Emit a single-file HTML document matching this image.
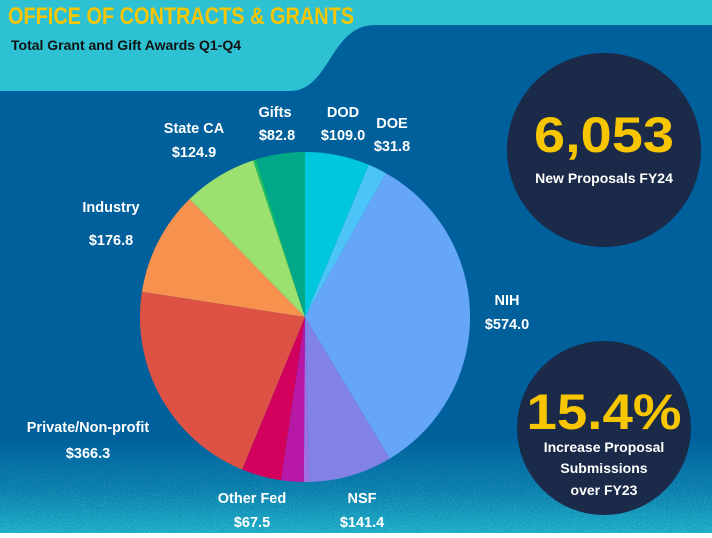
<!DOCTYPE html>
<html><head><meta charset="utf-8"><style>
html,body{margin:0;padding:0}
body{width:712px;height:533px;overflow:hidden;font-family:"Liberation Sans",sans-serif}
</style></head><body>
<svg width="712" height="533" viewBox="0 0 712 533">
<defs>
<linearGradient id="bg" x1="0" y1="0" x2="0" y2="1">
<stop offset="0" stop-color="#00609c"/><stop offset="0.82" stop-color="#00609c"/><stop offset="0.92" stop-color="#0a7eac"/><stop offset="1" stop-color="#1aaac6"/>
</linearGradient>
<filter id="noise"><feTurbulence type="fractalNoise" baseFrequency="0.9" numOctaves="2"/><feColorMatrix type="matrix" values="0 0 0 0 0.2 0 0 0 0 0.8 0 0 0 0 0.9 0 0 0 2 -1"/></filter>
<linearGradient id="fade" x1="0" y1="0" x2="0" y2="1"><stop offset="0" stop-color="#fff" stop-opacity="0"/><stop offset="1" stop-color="#fff" stop-opacity="0.8"/></linearGradient>
<mask id="m"><rect x="0" y="440" width="712" height="93" fill="url(#fade)"/></mask>
</defs>
<rect width="712" height="533" fill="url(#bg)"/>
<rect x="0" y="440" width="712" height="93" filter="url(#noise)" mask="url(#m)"/>
<path d="M0 0H712V25H375C330 25 330 91 290 91H0Z" fill="#2dc1d3"/>
<text x="8" y="24" font-family="Liberation Sans" font-weight="bold" font-size="24" fill="#f7c600" textLength="346" lengthAdjust="spacingAndGlyphs">OFFICE OF CONTRACTS &amp; GRANTS</text>
<text x="11" y="50" font-size="14" fill="#111" font-weight="bold">Total Grant and Gift Awards Q1-Q4</text>
<g id="pie"></g>
<g font-size="14.5" fill="#fff" text-anchor="middle" font-weight="bold">
<text x="275" y="117">Gifts</text><text x="277" y="140">$82.8</text>
<text x="343" y="117">DOD</text><text x="343" y="140">$109.0</text>
<text x="392" y="128">DOE</text><text x="392" y="151">$31.8</text>
<text x="194" y="133">State CA</text><text x="194" y="157">$124.9</text>
<text x="111" y="212">Industry</text><text x="111" y="245">$176.8</text>
<text x="507" y="305">NIH</text><text x="507" y="329">$574.0</text>
<text x="88" y="432">Private/Non-profit</text><text x="88" y="458">$366.3</text>
<text x="252" y="503">Other Fed</text><text x="252" y="527">$67.5</text>
<text x="362" y="503">NSF</text><text x="362" y="527">$141.4</text>
</g>
<circle cx="604" cy="150" r="97" fill="#1a2a48"/>
<text x="604" y="152" text-anchor="middle" font-weight="bold" font-size="50" fill="#f7c600" textLength="140" lengthAdjust="spacingAndGlyphs">6,053</text>
<text x="604" y="183" text-anchor="middle" font-size="14" font-weight="bold" fill="#fff">New Proposals FY24</text>
<circle cx="604" cy="428" r="87" fill="#1a2a48"/>
<text x="604" y="429" text-anchor="middle" font-weight="bold" font-size="50" fill="#f7c600" textLength="155" lengthAdjust="spacingAndGlyphs">15.4%</text>
<g text-anchor="middle" font-size="14" font-weight="bold" fill="#fff">
<text x="604" y="452">Increase Proposal</text><text x="604" y="473">Submissions</text><text x="604" y="495">over FY23</text></g>
</svg>
<script>
const categories=["DOD","DOE","NIH","NSF","Other A","Other B","Other Fed","Private/Non-profit","Industry","State CA","Other C","Gifts"];
const values=[109.0,31.8,574.0,141.4,9,38,67.5,366.3,176.8,124.9,5,82.8];
const colors=["#00c8dc","#4cc4f8","#66a6f8","#8282e6","#a070e0","#b818a6","#d2005c","#de5246","#f6924e","#9ce070","#1fbf60","#00a888"];
const cx=305,cy=317,r=165;
const total=values.reduce((a,b)=>a+b,0);
const g=document.getElementById('pie');
let a0=0;
values.forEach((v,i)=>{
 const a1=a0+v/total*2*Math.PI;
 const x0=cx+r*Math.sin(a0),y0=cy-r*Math.cos(a0),x1=cx+r*Math.sin(a1),y1=cy-r*Math.cos(a1);
 const p=document.createElementNS('http://www.w3.org/2000/svg','path');
 p.setAttribute('d',`M${cx} ${cy}L${x0} ${y0}A${r} ${r} 0 ${a1-a0>Math.PI?1:0} 1 ${x1} ${y1}Z`);
 p.setAttribute('fill',colors[i]);
 
 
 g.appendChild(p);
 a0=a1;
});
</script>
</body></html>
